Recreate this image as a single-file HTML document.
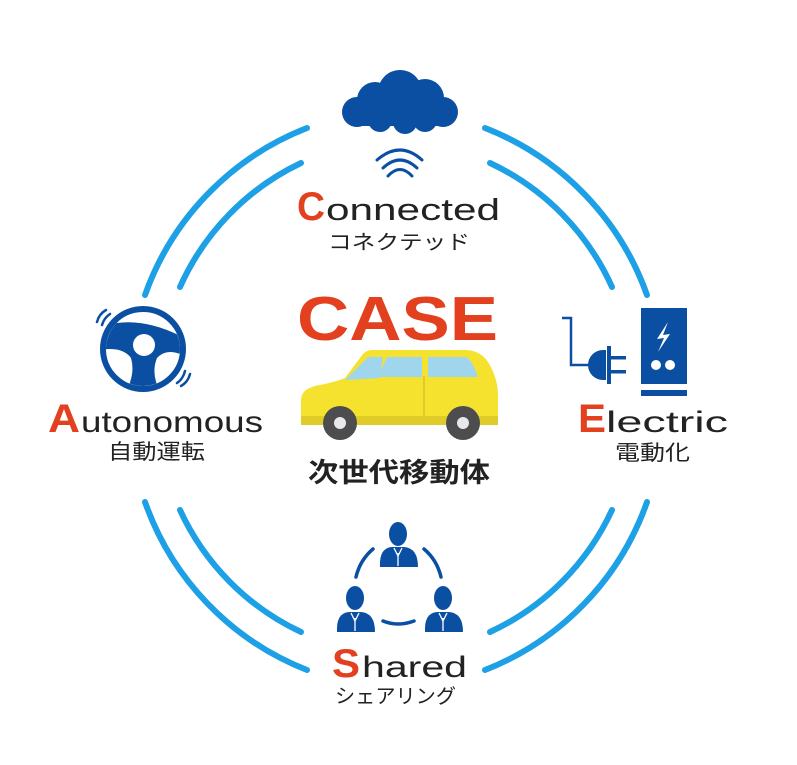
<!DOCTYPE html>
<html><head><meta charset="utf-8"><style>
html,body{margin:0;padding:0;background:#fff;}
svg{display:block;}
text{font-family:"Liberation Sans","Noto Sans CJK JP",sans-serif;}
</style></head><body>
<svg width="797" height="765" viewBox="0 0 797 765" xmlns="http://www.w3.org/2000/svg">
<rect width="797" height="765" fill="#fff"/>
<g fill="none" stroke="#1ea0e6" stroke-width="6" stroke-linecap="round">
<path d="M307,128 A280,280 0 0 0 145,295"/>
<path d="M301,163 A250,250 0 0 0 180,287"/>
<path d="M485,128 A280,280 0 0 1 647,295"/>
<path d="M490,163 A250,250 0 0 1 612,287"/>
<path d="M145,502 A280,280 0 0 0 307,670"/>
<path d="M180,510 A250,250 0 0 0 301,632"/>
<path d="M647,502 A280,280 0 0 1 485,670"/>
<path d="M612,510 A250,250 0 0 1 490,632"/>
</g>
<g fill="#0b4fa3">
<circle cx="400" cy="92" r="22"/>
<circle cx="375" cy="100" r="18"/>
<circle cx="425" cy="98" r="19"/>
<circle cx="357" cy="112" r="15"/>
<circle cx="443" cy="112" r="15"/>
<rect x="350" y="100" width="100" height="26" rx="12"/>
<circle cx="380" cy="120" r="12"/>
<circle cx="405" cy="122" r="12"/>
<circle cx="425" cy="120" r="12"/>
</g>
<g fill="none" stroke="#0b4fa3" stroke-width="3" stroke-linecap="round">
<path d="M377,160 Q400,140 422,160"/>
<path d="M383,168 Q400,152 417,168"/>
<path d="M388,176 Q400,163 412,176"/>
</g>
<text x="297" y="220" font-size="40" font-weight="bold" fill="#e2401e" textLength="28" lengthAdjust="spacingAndGlyphs">C</text>
<text x="326" y="220" font-size="31" fill="#222" textLength="174" lengthAdjust="spacingAndGlyphs">onnected</text>
<text x="328" y="249" font-size="20" fill="#222" textLength="142" lengthAdjust="spacingAndGlyphs">コネクテッド</text>
<text x="297" y="340" font-size="62" font-weight="bold" fill="#e2401e" textLength="201" lengthAdjust="spacingAndGlyphs">CASE</text>
<path d="M372,350 L465,350 Q480,350 488,362 Q498,378 498,395 L498,418 Q498,425 490,425 L308,425 Q301,425 301,418 L301,400 Q301,388 320,385 Q335,382 345,378 L360,358 Q365,350 372,350 Z" fill="#f4e22e"/>
<rect x="301" y="416" width="197" height="9" fill="#e0cc28"/>
<path d="M345,380 L368,357 L383,357 L380,378 Z" fill="#9fd6ee"/>
<path d="M387,357 L422,357 L422,377 L378,377 Z" fill="#9fd6ee"/>
<path d="M428,357 L466,357 Q472,360 478,377 L428,377 Z" fill="#9fd6ee"/>
<line x1="424" y1="376" x2="424" y2="418" stroke="#d8c425" stroke-width="1.5"/>
<circle cx="340" cy="423" r="17" fill="#4d4d50"/>
<circle cx="340" cy="423" r="6" fill="#e8e8e8"/>
<circle cx="463" cy="423" r="17" fill="#4d4d50"/>
<circle cx="463" cy="423" r="6" fill="#e8e8e8"/>
<text x="308" y="482" font-size="27" font-weight="bold" fill="#222" textLength="182" lengthAdjust="spacingAndGlyphs">次世代移動体</text>
<defs><clipPath id="wc"><circle cx="143" cy="349" r="37"/></clipPath></defs>
<circle cx="143" cy="349" r="40" fill="none" stroke="#0b4fa3" stroke-width="6"/>
<g clip-path="url(#wc)">
<path d="M100,327 Q140,313 188,340 L188,358 Q168,346 157,358 Q150,375 162,395 L124,395 Q136,375 131,358 Q122,346 100,350 Z" fill="#0b4fa3"/>
</g>
<circle cx="144" cy="345" r="11" fill="#fff"/>
<g fill="none" stroke="#0b4fa3" stroke-width="2.5" stroke-linecap="round">
<path d="M97,322 Q99,314 106,310"/>
<path d="M102,325 Q104,318 110,314"/>
<path d="M190,374 Q188,382 181,386"/>
<path d="M185,371 Q183,379 177,383"/>
</g>
<text x="48" y="432" font-size="40" font-weight="bold" fill="#e2401e" textLength="32" lengthAdjust="spacingAndGlyphs">A</text>
<text x="81" y="432" font-size="30" fill="#222" textLength="182" lengthAdjust="spacingAndGlyphs">utonomous</text>
<text x="108" y="459" font-size="21" fill="#222" textLength="97" lengthAdjust="spacingAndGlyphs">自動運転</text>
<path d="M562,318 L571,318 L571,365 L590,365" fill="none" stroke="#0b4fa3" stroke-width="2.5"/>
<path d="M606,350 L606,380 L603,380 A15,15 0 0 1 603,350 Z" fill="#0b4fa3"/>
<rect x="607" y="346" width="4" height="38" fill="#0b4fa3"/>
<rect x="611" y="356" width="15" height="3.5" fill="#0b4fa3"/>
<rect x="611" y="370" width="15" height="3.5" fill="#0b4fa3"/>
<rect x="641" y="308" width="46" height="76" fill="#0b4fa3"/>
<rect x="641" y="390" width="46" height="6" fill="#0b4fa3"/>
<path d="M668,322 L657,339 L664,338 L658,352 L670,334 L663,335 Z" fill="#fff"/>
<circle cx="656" cy="365" r="5" fill="#fff"/>
<circle cx="670" cy="365" r="5" fill="#fff"/>
<text x="578" y="432" font-size="40" font-weight="bold" fill="#e2401e" textLength="28" lengthAdjust="spacingAndGlyphs">E</text>
<text x="606" y="432" font-size="30" fill="#222" textLength="122" lengthAdjust="spacingAndGlyphs">lectric</text>
<text x="615" y="460" font-size="21" fill="#222" textLength="75" lengthAdjust="spacingAndGlyphs">電動化</text>
<g fill="none" stroke="#0b4fa3" stroke-width="3.5" stroke-linecap="round">
<path d="M373,549 Q360,560 356,577"/>
<path d="M424,549 Q437,560 441,577"/>
<path d="M383,621 Q398,627 414,621"/>
</g>
<g fill="#0b4fa3">
<ellipse cx="398" cy="534" rx="9" ry="12"/>
<path d="M380,567 Q379,548 392,547 L404,547 Q418,548 418,567 Z"/>
<ellipse cx="355" cy="598" rx="9" ry="12"/>
<path d="M337,632 Q336,613 349,612 L361,612 Q375,613 375,632 Z"/>
<ellipse cx="443" cy="598" rx="9" ry="12"/>
<path d="M425,632 Q424,613 437,612 L449,612 Q463,613 463,632 Z"/>
</g>
<g stroke="#fff" stroke-width="1.3" fill="none">
<path d="M394,548 L398,556 L402,548"/><line x1="398" y1="553" x2="398" y2="566"/>
<path d="M351,613 L355,621 L359,613"/><line x1="355" y1="618" x2="355" y2="631"/>
<path d="M439,613 L443,621 L447,613"/><line x1="443" y1="618" x2="443" y2="631"/>
</g>
<text x="332" y="677" font-size="40" font-weight="bold" fill="#e2401e" textLength="28" lengthAdjust="spacingAndGlyphs">S</text>
<text x="362" y="677" font-size="30" fill="#222" textLength="105" lengthAdjust="spacingAndGlyphs">hared</text>
<text x="335" y="703" font-size="20" fill="#222" textLength="121" lengthAdjust="spacingAndGlyphs">シェアリング</text>
</svg>
</body></html>
